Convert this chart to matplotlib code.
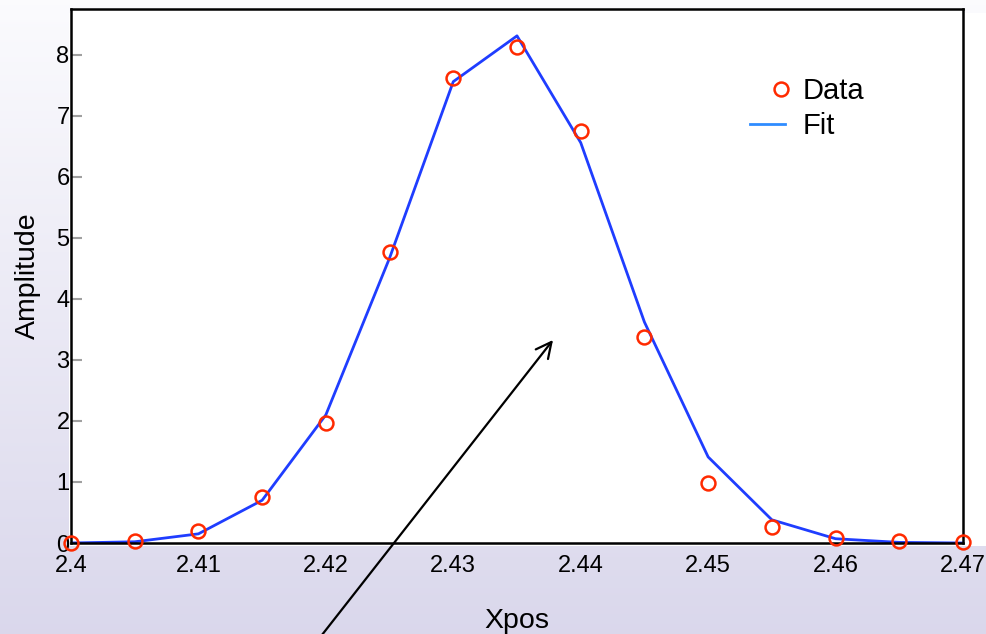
import numpy as np
import matplotlib
matplotlib.use("Agg")
import matplotlib.pyplot as plt
from matplotlib.lines import Line2D
from matplotlib.patches import Rectangle
from matplotlib.legend_handler import HandlerLine2D

plt.rcParams['font.family'] = ['Liberation Sans', 'DejaVu Sans']

xpos = [2.400, 2.405, 2.410, 2.415, 2.420, 2.425, 2.430, 2.435,
        2.440, 2.445, 2.450, 2.455, 2.460, 2.465, 2.470]
data_amp = [0.0, 0.03, 0.20, 0.75, 1.97, 4.77, 7.62, 8.13,
            6.75, 3.38, 0.98, 0.26, 0.08, 0.03, 0.01]
fit_amp = [0.0, 0.02, 0.15, 0.70, 2.10, 4.67, 7.56, 8.31,
           6.56, 3.62, 1.41, 0.38, 0.07, 0.01, 0.0]
xticks = [2.40, 2.41, 2.42, 2.43, 2.44, 2.45, 2.46, 2.47]
xtick_labels = ['2.4', '2.41', '2.42', '2.43', '2.44', '2.45', '2.46', '2.47']
yticks = [0, 1, 2, 3, 4, 5, 6, 7, 8]

W, H = 987, 634
fig = plt.figure(figsize=(W / 100, H / 100), dpi=100)

# gradient background
bg = fig.add_axes([0, 0, 1, 1], zorder=-10)
grad = np.linspace(0, 1, 256).reshape(-1, 1)
top = np.array([0.985, 0.985, 0.995])
bot = np.array([0.855, 0.845, 0.925])
img = top[None, None, :] * (1 - grad[:, :, None]) + bot[None, None, :] * grad[:, :, None]
bg.imshow(img, aspect='auto', extent=[0, 1, 0, 1], origin='upper')
bg.set_axis_off()
bg.add_patch(Rectangle((69 / W, (H - 546) / H), 1 - 69 / W, (546 - 13) / H,
                       transform=bg.transAxes, facecolor='white', edgecolor='none'))

ax = fig.add_axes([71 / W, (H - 543) / H, (963 - 71) / W, (543 - 9) / H])
ax.plot(xpos, fit_amp, color='#1f3dff', lw=2.0, zorder=2)
ax.plot(xpos, data_amp, 'o', ms=10, mfc='none', mec='#ff2a00', mew=1.8,
        zorder=3, clip_on=False)

ax.set_xlim(2.40, 2.47)
ax.set_ylim(0, 8.75)
ax.set_xticks(xticks)
ax.set_xticklabels(xtick_labels)
ax.set_yticks(yticks)
ax.tick_params(axis='y', direction='in', length=8, width=1.5, color='#a0a0a0',
               pad=1, labelsize=17)
ax.tick_params(axis='x', length=0, pad=9, labelsize=17)
for s in ax.spines.values():
    s.set_linewidth(1.8)
    s.set_color('black')
ax.set_xlabel('Xpos', fontsize=20.5, labelpad=22)
ax.set_ylabel('Amplitude', fontsize=20.5, labelpad=11)

h_data = Line2D([], [], ls='none', marker='o', ms=10, mfc='none',
                mec='#ff2a00', mew=1.8)
h_fit = Line2D([], [], color='#2f8cff', lw=2.0)
ax.legend([h_data, h_fit], ['Data', 'Fit'], loc='upper left',
          bbox_to_anchor=((750 - 71) / 892, (543 - 77) / 534),
          frameon=False, fontsize=21, handlelength=1.2, handletextpad=0.62,
          labelspacing=0.25, borderaxespad=0, borderpad=0, numpoints=1,
          handler_map={h_data: HandlerLine2D(xpad=0.9)})

# arrow
ax.annotate('', xy=(553 / W, (H - 340) / H), xytext=(318 / W, (H - 640) / H),
            xycoords='figure fraction', textcoords='figure fraction',
            arrowprops=dict(arrowstyle='->', color='black', lw=1.6,
                            mutation_scale=28, shrinkA=0, shrinkB=0),
            annotation_clip=False)

fig.savefig('out.png', dpi=100)
